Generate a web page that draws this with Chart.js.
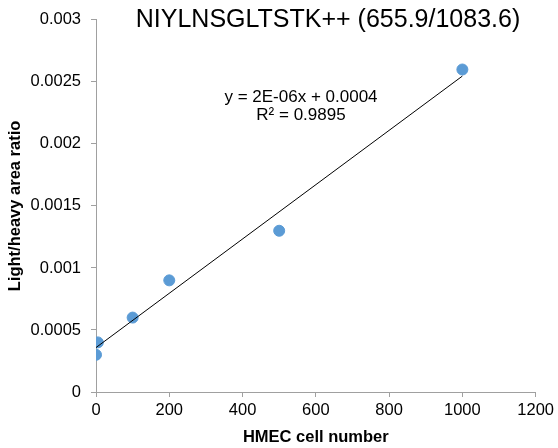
<!DOCTYPE html>
<html>
<head>
<meta charset="utf-8">
<script src="https://cdn.jsdelivr.net/npm/chart.js@4"></script>
<style>
  html, body { margin: 0; padding: 0; background: #fff; }
  #wrap { width: 558px; height: 448px; }
</style>
</head>
<body>
<div id="wrap"><canvas id="chart" width="558" height="448"></canvas></div>
<script>
// data
const cellNumbers = [0, 5, 100, 200, 500, 1000];
const lightHeavyRatio = [0.0003, 0.0004, 0.0006, 0.0009, 0.0013, 0.0026];
const yTicks = [0, 0.0005, 0.001, 0.0015, 0.002, 0.0025, 0.003];
const xTicks = [0, 200, 400, 600, 800, 1000, 1200];
const chartTitle = 'NIYLNSGLTSTK++ (655.9/1083.6)';
const trendLabel = ['y = 2E-06x + 0.0004', 'R\u00b2 = 0.9895'];

// least squares fit for the trendline
const n = cellNumbers.length;
const mx = cellNumbers.reduce((a, b) => a + b, 0) / n;
const my = lightHeavyRatio.reduce((a, b) => a + b, 0) / n;
let sxy = 0, sxx = 0;
cellNumbers.forEach((x, i) => {
    sxy += (x - mx) * (lightHeavyRatio[i] - my);
    sxx += (x - mx) * (x - mx);
});
const slope = sxy / sxx;
const intercept = my - slope * mx;
const xMin = Math.min(...cellNumbers), xMax = Math.max(...cellNumbers);

const font = "'Liberation Sans', Arial, sans-serif";
const axisColor = '#a0a0a0';

// title and trendline equation sit inside the plot area, like the original
const overlayText = {
    id: 'overlayText',
    afterDraw(chart) {
        const ctx = chart.ctx;
        ctx.save();
        ctx.fillStyle = '#000';
        ctx.textAlign = 'center';
        ctx.textBaseline = 'middle';
        ctx.font = '25px ' + font;
        ctx.fillText(chartTitle, 328, 20);
        ctx.font = '17px ' + font;
        ctx.fillText(trendLabel[0], 301, 97);
        ctx.fillText(trendLabel[1], 301, 115);
        ctx.restore();
    }
};

new Chart(document.getElementById('chart'), {
    type: 'scatter',
    data: {
        datasets: [{
            label: 'data',
            data: cellNumbers.map((x, i) => ({ x, y: lightHeavyRatio[i] })),
            backgroundColor: '#5B9BD5',
            borderColor: '#5B9BD5',
            pointRadius: 5.5,
            order: 1,
        }, {
            label: 'trend',
            type: 'line',
            data: [
                { x: xMin, y: intercept + slope * xMin },
                { x: xMax, y: intercept + slope * xMax },
            ],
            borderColor: '#000',
            borderWidth: 1,
            pointRadius: 0,
            fill: false,
            order: 0,
        }]
    },
    options: {
        responsive: false,
        animation: false,
        layout: { padding: { left: 0, top: 15, right: 21, bottom: 0 } },
        plugins: {
            legend: { display: false },
            tooltip: { enabled: false },
        },
        scales: {
            x: {
                type: 'linear',
                min: 0,
                max: 1200,
                afterBuildTicks: (s) => { s.ticks = xTicks.map(v => ({ value: v })); },
                afterFit: (s) => { s.height = 56; },
                grid: { drawOnChartArea: false, color: axisColor, tickLength: 5 },
                border: { color: axisColor, width: 1 },
                ticks: {
                    color: '#000',
                    font: { family: font, size: 16.5 },
                    padding: 4,
                    maxRotation: 0,
                    callback: (v) => String(v),
                },
                title: {
                    display: true,
                    text: 'HMEC cell number',
                    color: '#000',
                    font: { family: font, size: 16.5, weight: 'bold' },
                    padding: { top: 0, bottom: 1 },
                },
            },
            y: {
                type: 'linear',
                min: 0,
                max: 0.003,
                afterBuildTicks: (s) => { s.ticks = yTicks.map(v => ({ value: v })); },
                afterFit: (s) => { s.width = 96; },
                grid: { drawOnChartArea: false, color: axisColor, tickLength: 5 },
                border: { color: axisColor, width: 1 },
                ticks: {
                    color: '#000',
                    font: { family: font, size: 16.5 },
                    padding: 10,
                    callback: (v) => Number(v.toFixed(4)).toString(),
                },
                title: {
                    display: true,
                    text: 'Light/heavy area ratio',
                    color: '#000',
                    font: { family: font, size: 16.5, weight: 'bold' },
                    padding: { top: 6, bottom: 0 },
                },
            },
        },
    },
    plugins: [overlayText],
});
</script>
</body>
</html>
